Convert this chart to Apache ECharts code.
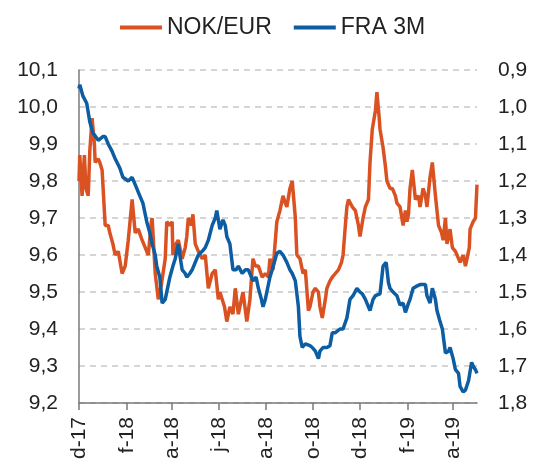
<!DOCTYPE html>
<html>
<head>
<meta charset="utf-8">
<script src="https://cdn.jsdelivr.net/npm/echarts@6/dist/echarts.min.js"></script>
<style>
  html, body { margin: 0; padding: 0; background: #fff; }
  #container { width: 533px; height: 466px; }
</style>
</head>
<body>
<div id="container"></div>
<script>
var dom = document.getElementById('container');
var myChart = echarts.init(dom);

// x values are days since 1 Dec 2017
var startDate = new Date(2017, 11, 1).getTime();
var DAY = 86400000;

var nokDays = [0, 1, 4, 7, 9, 12, 14, 17, 20, 21, 25, 27, 30, 34, 38, 40, 44, 47, 51, 56, 60, 64, 69, 73, 77, 82, 86, 90, 94, 95, 99, 103, 107, 112, 114, 118, 121, 122, 126, 129, 134, 138, 140, 142, 146, 148, 151, 155, 160, 164, 168, 173, 177, 181, 183, 189, 192, 196, 200, 203, 207, 211, 213, 218, 222, 226, 229, 233, 238, 242, 246, 248, 252, 257, 261, 265, 268, 270, 274, 277, 281, 283, 287, 291, 294, 298, 300, 304, 307, 311, 313, 316, 320, 322, 326, 329, 333, 337, 341, 343, 346, 348, 350, 355, 359, 363, 365, 369, 372, 376, 378, 381, 385, 387, 390, 391, 395, 398, 400, 404, 407, 411, 413, 417, 421, 424, 426, 428, 430, 433, 437, 441, 443, 447, 450, 452, 456, 459, 463, 467, 471, 473, 476, 478, 482, 485, 489, 493, 495, 499, 502, 504, 507, 508, 512, 515, 517];
var nokValues = [9.80, 9.87, 9.76, 9.87, 9.78, 9.76, 9.88, 9.97, 9.90, 9.85, 9.86, 9.85, 9.83, 9.68, 9.68, 9.66, 9.63, 9.60, 9.61, 9.55, 9.57, 9.64, 9.75, 9.66, 9.67, 9.64, 9.62, 9.60, 9.69, 9.70, 9.55, 9.48, 9.52, 9.59, 9.69, 9.68, 9.69, 9.60, 9.63, 9.64, 9.59, 9.62, 9.65, 9.70, 9.68, 9.71, 9.63, 9.61, 9.59, 9.60, 9.51, 9.55, 9.56, 9.48, 9.50, 9.46, 9.42, 9.46, 9.44, 9.51, 9.44, 9.48, 9.50, 9.42, 9.48, 9.59, 9.57, 9.57, 9.54, 9.55, 9.54, 9.59, 9.56, 9.69, 9.72, 9.76, 9.74, 9.73, 9.78, 9.80, 9.70, 9.60, 9.59, 9.55, 9.56, 9.45, 9.46, 9.50, 9.51, 9.50, 9.46, 9.43, 9.48, 9.51, 9.53, 9.54, 9.55, 9.56, 9.58, 9.60, 9.68, 9.73, 9.75, 9.73, 9.72, 9.68, 9.65, 9.70, 9.73, 9.75, 9.85, 9.94, 9.99, 10.04, 9.97, 9.94, 9.89, 9.84, 9.80, 9.78, 9.78, 9.76, 9.74, 9.73, 9.68, 9.72, 9.69, 9.71, 9.78, 9.83, 9.75, 9.76, 9.73, 9.78, 9.76, 9.73, 9.81, 9.85, 9.76, 9.68, 9.66, 9.64, 9.70, 9.63, 9.67, 9.62, 9.61, 9.59, 9.58, 9.60, 9.57, 9.57, 9.62, 9.67, 9.69, 9.70, 9.79];

var fraDays = [0, 1, 5, 10, 14, 18, 25, 31, 34, 38, 43, 47, 53, 57, 64, 69, 73, 75, 79, 83, 88, 92, 95, 99, 101, 105, 108, 112, 116, 118, 122, 125, 129, 131, 134, 138, 140, 144, 147, 151, 155, 160, 164, 168, 173, 177, 179, 183, 187, 190, 192, 196, 200, 204, 207, 212, 216, 220, 222, 226, 230, 233, 237, 239, 242, 244, 248, 251, 255, 257, 261, 265, 270, 274, 277, 281, 285, 287, 290, 294, 296, 300, 303, 307, 311, 313, 317, 322, 326, 329, 333, 339, 343, 348, 352, 356, 361, 365, 368, 372, 374, 378, 382, 385, 391, 395, 399, 402, 404, 408, 413, 417, 421, 424, 428, 430, 434, 438, 443, 450, 452, 456, 459, 463, 465, 469, 472, 476, 480, 482, 486, 489, 493, 495, 499, 502, 506, 510, 512, 515, 517];
var fraValues = [0.95, 0.94, 0.97, 0.99, 1.04, 1.07, 1.09, 1.08, 1.08, 1.10, 1.12, 1.14, 1.165, 1.19, 1.20, 1.19, 1.21, 1.22, 1.24, 1.26, 1.31, 1.34, 1.37, 1.40, 1.43, 1.46, 1.53, 1.52, 1.48, 1.46, 1.43, 1.41, 1.37, 1.40, 1.44, 1.45, 1.46, 1.45, 1.44, 1.42, 1.40, 1.39, 1.38, 1.36, 1.32, 1.30, 1.28, 1.33, 1.305, 1.32, 1.35, 1.37, 1.44, 1.44, 1.43, 1.45, 1.44, 1.44, 1.45, 1.47, 1.46, 1.49, 1.52, 1.54, 1.52, 1.50, 1.46, 1.44, 1.41, 1.395, 1.39, 1.40, 1.42, 1.44, 1.45, 1.47, 1.54, 1.62, 1.65, 1.64, 1.645, 1.645, 1.65, 1.66, 1.68, 1.66, 1.65, 1.65, 1.645, 1.61, 1.61, 1.60, 1.60, 1.57, 1.52, 1.51, 1.49, 1.50, 1.505, 1.52, 1.52, 1.55, 1.52, 1.51, 1.505, 1.43, 1.42, 1.475, 1.49, 1.50, 1.51, 1.535, 1.53, 1.555, 1.53, 1.52, 1.49, 1.485, 1.48, 1.48, 1.51, 1.53, 1.49, 1.52, 1.55, 1.58, 1.60, 1.665, 1.66, 1.65, 1.68, 1.71, 1.72, 1.755, 1.77, 1.765, 1.74, 1.69, 1.70, 1.71, 1.72];

var tickDates = [[2017, 11], [2018, 1], [2018, 3], [2018, 5], [2018, 7], [2018, 9], [2018, 11], [2019, 1], [2019, 3]];
var tickLabels = ['d-17', 'f-18', 'a-18', 'j-18', 'a-18', 'o-18', 'd-18', 'f-19', 'a-19'];

var orange = '#DA5222';
var blue = '#0D5DA2';
var font = 'Liberation Sans';

function toPairs(days, values) {
  return days.map(function (d, i) { return [d, values[i]]; });
}
var tickDays = tickDates.map(function (t) {
  return Math.round((new Date(t[0], t[1], 1).getTime() - startDate) / DAY);
});

function comma(v) {
  return v.toFixed(1).replace('.', ',');
}

var option = {
  animation: false,
  legend: {
    top: 11,
    left: 115,
    icon: 'rect',
    itemWidth: 42,
    itemHeight: 4,
    itemGap: 22,
    textStyle: { fontFamily: font, fontSize: 23, color: '#222' },
    data: ['NOK/EUR', 'FRA 3M']
  },
  grid: { left: 79, right: 56, top: 70, bottom: 63 },
  xAxis: {
    type: 'value',
    min: 0,
    max: 517,
    axisLine: { show: true, lineStyle: { color: '#7A7A7A', width: 1.5 } },
    axisTick: { show: true, length: 7, customValues: tickDays, lineStyle: { color: '#7A7A7A', width: 1.5 } },
    splitLine: { show: false },
    axisLabel: {
      customValues: tickDays,
      rotate: 90,
      margin: 14,
      fontFamily: font,
      fontSize: 21,
      color: '#222',
      formatter: function (v) {
        var i = tickDays.indexOf(v);
        return i >= 0 ? tickLabels[i] : '';
      }
    }
  },
  yAxis: [
    {
      type: 'value',
      min: 9.2,
      max: 10.1,
      interval: 0.1,
      axisLine: { show: true, lineStyle: { color: '#7A7A7A', width: 1.5 } },
      axisTick: { show: false },
      splitLine: { show: true, lineStyle: { color: '#C8C8C8', type: [6, 5], width: 1.5 } },
      axisLabel: { margin: 21, fontFamily: font, fontSize: 21, color: '#222', formatter: comma }
    },
    {
      type: 'value',
      min: 0.9,
      max: 1.8,
      interval: 0.1,
      inverse: true,
      axisLine: { show: false },
      axisTick: { show: false },
      splitLine: { show: false },
      axisLabel: { margin: 21, fontFamily: font, fontSize: 21, color: '#222', formatter: comma }
    }
  ],
  series: [
    {
      name: 'NOK/EUR',
      type: 'line',
      yAxisIndex: 0,
      symbol: 'none',
      color: orange,
      lineStyle: { width: 3.5, color: orange },
      data: toPairs(nokDays, nokValues)
    },
    {
      name: 'FRA 3M',
      type: 'line',
      yAxisIndex: 1,
      symbol: 'none',
      color: blue,
      lineStyle: { width: 3.5, color: blue },
      data: toPairs(fraDays, fraValues)
    }
  ]
};

if (option && typeof option === 'object') {
  myChart.setOption(option);
}
</script>
</body>
</html>
